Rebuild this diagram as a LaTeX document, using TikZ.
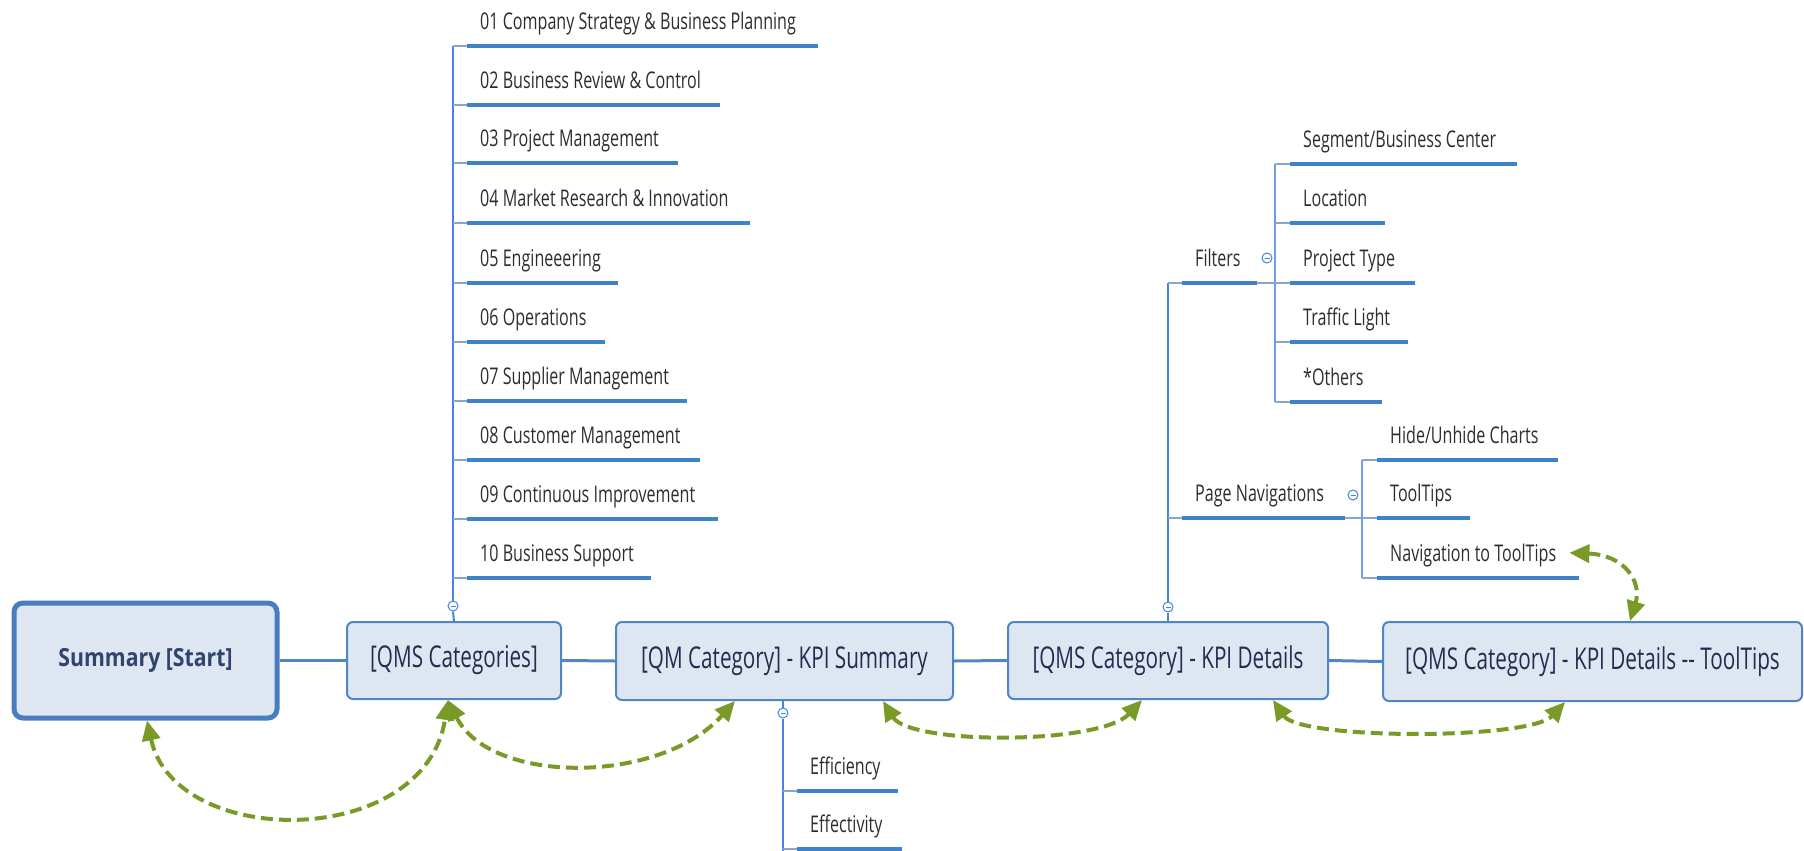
\documentclass[tikz,border=0pt]{standalone}
\usepackage{fontspec}
\setmainfont{Open Sans}
\usetikzlibrary{arrows.meta,calc}
\definecolor{cBoxBlue}{RGB}{79,134,198}
\definecolor{cSumBlue}{RGB}{74,125,192}
\definecolor{cBoxFill}{RGB}{222,230,242}
\definecolor{cBoxText}{RGB}{35,45,80}
\definecolor{cSumText}{RGB}{48,68,108}
\definecolor{cUline}{RGB}{62,130,202}
\definecolor{cVline}{RGB}{72,132,222}
\definecolor{cStub}{RGB}{140,165,205}
\definecolor{cLeaf}{RGB}{45,45,45}
\definecolor{cGreen}{RGB}{122,154,40}
\newcommand{\bxt}[1]{\scalebox{0.69}[1]{#1}}
\newcommand{\lft}[1]{\scalebox{0.70}[1]{#1}}
\begin{document}
\begin{tikzpicture}[x=1pt,y=-1pt,
  box/.style={draw=cBoxBlue, line width=2pt, fill=cBoxFill, rounded corners=6pt,
    inner sep=0pt, font=\fontsize{30}{36}\selectfont, text=cBoxText},
  sumbox/.style={draw=cSumBlue, line width=5pt, fill=cBoxFill, rounded corners=9pt,
    inner sep=0pt, font=\fontsize{25}{30}\selectfont\bfseries, text=cSumText},
  leaf/.style={anchor=south west, inner xsep=13pt, inner ysep=10pt, text height=18pt,
    text depth=6pt, font=\fontsize{23}{28}\selectfont, text=cLeaf},
  ul/.style={draw=cUline, line width=3.5pt},
  vconn/.style={draw=cVline, line width=2pt},
  stubline/.style={draw=cStub, line width=1.5pt},
  mainline/.style={draw=cBoxBlue, line width=3pt},
  collapse/.style={circle, draw=cVline, line width=1pt, fill=white, minimum size=10pt, inner sep=0pt,
    path picture={\draw[cVline, line width=0.8pt] ([xshift=-2.5pt]path picture bounding box.center) -- ([xshift=2.5pt]path picture bounding box.center);}},
  garrow/.style={draw=cGreen, line width=4pt, dash pattern=on 12pt off 6pt,
    {Triangle[length=20pt,width=18pt]}-{Triangle[length=20pt,width=18pt]}}
]
\useasboundingbox (0,0) rectangle (1804,851);

% main boxes
\node[sumbox, minimum width=263pt, minimum height=115pt] (sum) at (145.5,660.5) {\scalebox{0.85}[1]{Summary [Start]}};
\node[box, minimum width=214pt, minimum height=77pt] (qms) at (454,660.5) {\bxt{[QMS Categories]}};
\node[box, minimum width=337pt, minimum height=78pt] (qm) at (784.5,661) {\bxt{[QM Category] - KPI Summary}};
\node[box, minimum width=320pt, minimum height=77pt] (kd) at (1168,660.5) {\bxt{[QMS Category] - KPI Details}};
\node[box, minimum width=419pt, minimum height=79pt] (tt) at (1592.5,661.5) {\bxt{[QMS Category] - KPI Details -{}- ToolTips}};

\draw[mainline] (sum.east) -- (qms.west);
\draw[mainline] (qms.east) -- (qm.west);
\draw[mainline] (qm.east) -- (kd.west);
\draw[mainline] (kd.east) -- (tt.west);

% QMS categories tree
\node[collapse] (qcirc) at (453,606) {};
\node[leaf] (c01) at (467,46) {\lft{01 Company Strategy \& Business Planning}};
\node[leaf] (c02) at (467,105) {\lft{02 Business Review \& Control}};
\node[leaf] (c03) at (467,163) {\lft{03 Project Management}};
\node[leaf] (c04) at (467,223) {\lft{04 Market Research \& Innovation}};
\node[leaf] (c05) at (467,283) {\lft{05 Engineeering}};
\node[leaf] (c06) at (467,342) {\lft{06 Operations}};
\node[leaf] (c07) at (467,401) {\lft{07 Supplier Management}};
\node[leaf] (c08) at (467,460) {\lft{08 Customer Management}};
\node[leaf] (c09) at (467,519) {\lft{09 Continuous Improvement}};
\node[leaf] (c10) at (467,578) {\lft{10 Business Support}};
\draw[vconn] (qcirc.south) -- (qms.north);
\draw[vconn] (qcirc.north) -- ([xshift=-14pt]c01.south west);
\foreach \n/\w in {c01/351,c02/253,c03/211,c04/283,c05/151,c06/138,c07/220,c08/233,c09/251,c10/184}{
  \draw[stubline] ([xshift=-14pt]\n.south west) -- (\n.south west);
  \draw[ul] (\n.south west) -- ++(\w,0);
}

% KPI summary tree
\node[collapse] (mcirc) at (783,713) {};
\node[leaf, anchor=south west] (eff1) at (797,791) {\lft{Efficiency}};
\node[leaf, anchor=south west] (eff2) at (797,849) {\lft{Effectivity}};
\draw[vconn] (qm.south -| mcirc) -- (mcirc.north);
\draw[vconn] (mcirc.south) -- ([xshift=-14pt,yshift=-4pt]eff2.south west);
\foreach \n/\w in {eff1/101,eff2/105}{
  \draw[stubline] ([xshift=-14pt]\n.south west) -- (\n.south west);
  \draw[ul] (\n.south west) -- ++(\w,0);
}

% KPI details tree
\node[collapse] (kcirc) at (1168,607) {};
\draw[vconn] (kcirc.south) -- (kd.north);
\node[leaf] (filt) at (1182,283) {\lft{Filters}};
\node[leaf] (pnav) at (1182,518) {\lft{Page Navigations}};
\draw[vconn] (kcirc.north) -- ([xshift=-14pt]filt.south west);
\foreach \n/\w in {filt/75,pnav/163}{
  \draw[stubline] ([xshift=-14pt]\n.south west) -- (\n.south west);
  \draw[ul] (\n.south west) -- ++(\w,0);
}
% filters children
\node[collapse] (fcirc) at (1267,258) {};
\node[leaf] (seg) at (1290,164) {\lft{Segment/Business Center}};
\node[leaf] (loc) at (1290,223) {\lft{Location}};
\node[leaf] (pty) at (1290,283) {\lft{Project Type}};
\node[leaf] (tfl) at (1290,342) {\lft{Traffic Light}};
\node[leaf] (oth) at (1290,402) {\lft{*Others}};
\draw[stubline] ([xshift=75pt]filt.south west) -- ([xshift=-15pt]pty.south west);
\draw[vconn, draw=cVline!80] ([xshift=-15pt]seg.south west) -- ([xshift=-15pt]oth.south west);
\foreach \n/\w in {seg/227,loc/95,pty/125,tfl/118,oth/92}{
  \draw[stubline] ([xshift=-15pt]\n.south west) -- (\n.south west);
  \draw[ul] (\n.south west) -- ++(\w,0);
}
% page navigation children
\node[collapse] (pcirc) at (1353,495) {};
\node[leaf] (hide) at (1377,460) {\lft{Hide/Unhide Charts}};
\node[leaf] (ttip) at (1377,518) {\lft{ToolTips}};
\node[leaf] (nav) at (1377,578) {\lft{Navigation to ToolTips}};
\draw[stubline] ([xshift=163pt]pnav.south west) -- ([xshift=-15pt]ttip.south west);
\draw[vconn, draw=cVline!80] ([xshift=-15pt]hide.south west) -- ([xshift=-15pt]nav.south west);
\foreach \n/\w in {hide/181,ttip/93,nav/202}{
  \draw[stubline] ([xshift=-15pt]\n.south west) -- (\n.south west);
  \draw[ul] (\n.south west) -- ++(\w,0);
}

% green navigation arrows
\draw[garrow] ([xshift=1.5pt]sum.south) .. controls (175,850) and (425,850) .. ([xshift=-6pt]qms.south);
\draw[garrow] ([xshift=-6pt]qms.south) .. controls (490,785) and (660,785) .. ([xshift=-49.5pt]qm.south);
\draw[garrow] ([xshift=98.5pt]qm.south) .. controls (910,745) and (1100,745) .. ([xshift=-26pt]kd.south);
\draw[garrow] ([xshift=105pt]kd.south) .. controls (1300,740) and (1530,740) .. ([xshift=-27.5pt]tt.south);
\draw[garrow] ([yshift=3pt]nav.east) .. controls (1625,555) and (1642,582) .. ([xshift=37.5pt]tt.north);
\end{tikzpicture}
\end{document}
